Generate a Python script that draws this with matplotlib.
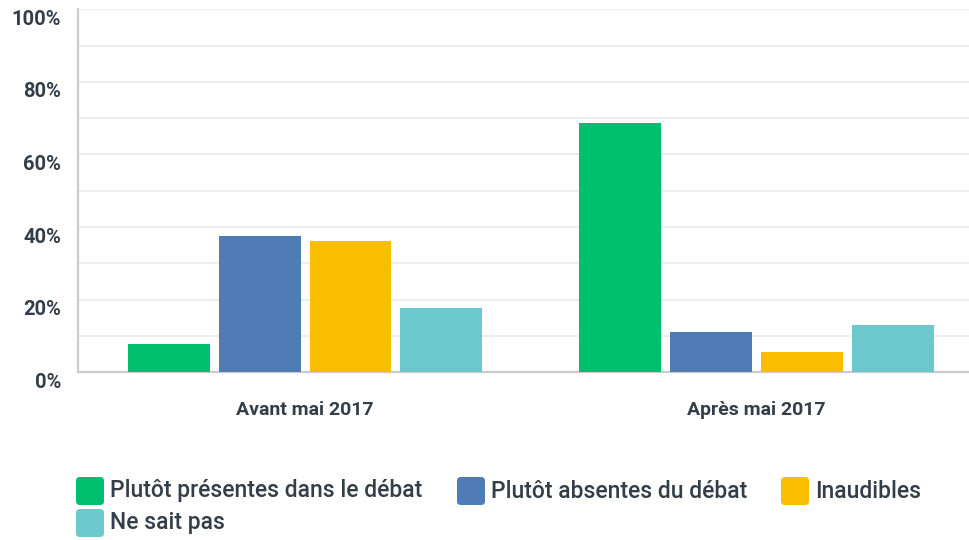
import numpy as np
import matplotlib
matplotlib.use("Agg")
import matplotlib.pyplot as plt
import matplotlib.transforms as mtransforms
from matplotlib.patches import FancyBboxPatch

periods = ["Avant mai 2017", "Après mai 2017"]
series = ["Plutôt présentes dans le débat", "Plutôt absentes du débat",
          "Inaudibles", "Ne sait pas"]
values = {
    "Plutôt présentes dans le débat": [7.8, 68.7],
    "Plutôt absentes du débat": [37.5, 11.1],
    "Inaudibles": [36.2, 5.6],
    "Ne sait pas": [17.7, 13.0],
}
colors = ["#00bf6f", "#507cb6", "#f9be00", "#6bc8cd"]
yticks = [0, 20, 40, 60, 80, 100]
ytick_labels = ["0%", "20%", "40%", "60%", "80%", "100%"]

text_col = "#333e48"
plt.rcParams['font.family'] = ['Roboto', 'DejaVu Sans']

fig = plt.figure(figsize=(9.69, 5.40), dpi=100)
ax = fig.add_axes([78 / 969, 1 - 372.3 / 540, 1 - 78 / 969, 363 / 540])

x = np.arange(len(periods))
width = 0.1816
step = 0.2015
for i, (name, col) in enumerate(zip(series, colors)):
    ax.bar(x + (i - 1.5) * step, values[name], width, color=col, zorder=3)

ax.set_xlim(-0.503, 1.471)
ax.set_ylim(0, 100)
ax.set_yticks(yticks)
ax.set_yticks(np.arange(10, 100, 20), minor=True)
ax.set_yticklabels(ytick_labels, fontsize=14.5, fontweight='bold', color=text_col)
ax.tick_params(axis='y', which='both', length=0, pad=12)
offset = mtransforms.ScaledTranslation(0, -8 / 100, fig.dpi_scale_trans)
for lab in ax.get_yticklabels():
    lab.set_transform(lab.get_transform() + offset)
ax.grid(axis='y', which='both', color='#eeeeee', linewidth=1.6, zorder=0)

ax.set_xticks(x)
ax.set_xticklabels(periods, fontsize=14, fontweight='bold', color=text_col)
ax.tick_params(axis='x', length=0, pad=21)

for s in ['top', 'right']:
    ax.spines[s].set_visible(False)
for s in ['left', 'bottom']:
    ax.spines[s].set_color('#cccccc')
    ax.spines[s].set_linewidth(1.6)

# legend drawn by hand in pixel coordinates
legend_pos = [(76, 491), (457, 491), (781, 491), (76, 523)]
for (px, py), name, col in zip(legend_pos, series, colors):
    patch = FancyBboxPatch((px / 969, 1 - (py + 14) / 540), 28 / 969, 28 / 540,
                           boxstyle="round,pad=0,rounding_size=0.004",
                           transform=fig.transFigure, facecolor=col,
                           edgecolor='none', mutation_aspect=969 / 540)
    fig.patches.append(patch)
    fig.text((px + 34) / 969, 1 - py / 540, name, fontsize=16.5,
             fontweight='medium', color=text_col, va='center', ha='left')

fig.savefig("out.png", dpi=100)
